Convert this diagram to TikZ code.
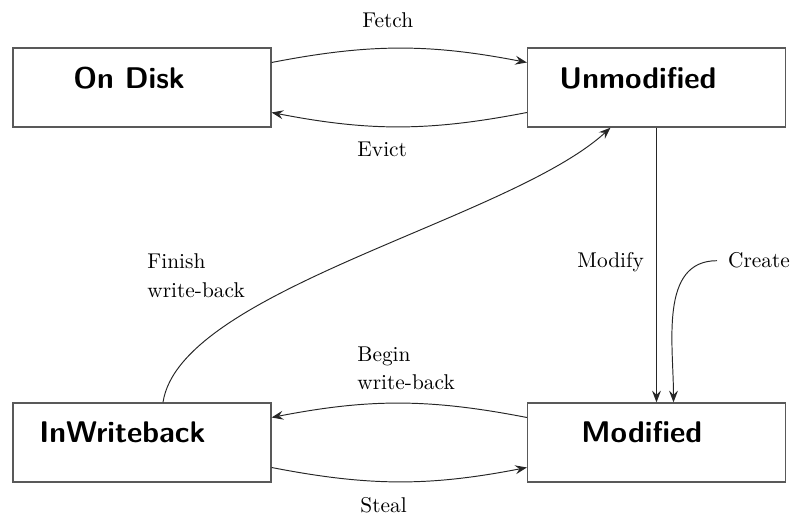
\documentclass[tikz,border=0pt]{standalone}
\usetikzlibrary{arrows.meta,calc}
\begin{document}
\begin{tikzpicture}[x=0.468pt,y=-0.468pt,
  statebox/.style={draw=black!65,line width=0.6pt,minimum width=120.7pt,minimum height=37pt,inner sep=0pt},
  title/.style={font=\fontsize{14}{16}\selectfont\sffamily\bfseries,inner sep=0pt,anchor=base west},
  lbl/.style={font=\fontsize{10}{13.5}\selectfont,inner sep=0pt,anchor=base west},
  mlbl/.style={font=\fontsize{10}{13.5}\selectfont,inner sep=0pt,anchor=north west,align=left},
  conn/.style={draw=black!85,line width=0.45pt,-{Stealth[length=5.5pt,width=4.2pt,inset=2pt]}}]
\useasboundingbox (0,0) rectangle (794,517);
% boxes
\node[statebox] (od) at (142,87.5) {};
\node[statebox] (um) at (656.5,87.5) {};
\node[statebox] (iw) at (142,442.5) {};
\node[statebox] (md) at (656.5,442.5) {};
% titles
\node[title] (odl) at (73,89) {On Disk};
\node[title] (uml) at (559,89) {Unmodified};
\node[title] (iwl) at (39,443) {InWriteback};
\node[title] (mdl) at (581,443) {Modified};
% labels
\node[lbl] (fetch) at (362,28) {Fetch};
\node[lbl] (evict) at (357,157) {Evict};
\node[lbl] (steal) at (360,513) {Steal};
\node[lbl] (modify) at (577,268) {Modify};
\node[lbl,inner xsep=5pt] (create) at (717,268) {Create};
\node[mlbl] (finish) at (147,253) {Finish\\write-back};
\node[mlbl] (begin) at (357,346) {Begin\\write-back};
% connectors
\draw[conn] ($(od.east)+(0,-25)$) to[bend left=11] ($(um.west)+(0,-25)$);
\draw[conn] ($(um.west)+(0,25)$) to[bend left=11] ($(od.east)+(0,25)$);
\draw[conn] ($(md.west)+(0,-25)$) to[bend right=11] ($(iw.east)+(0,-25)$);
\draw[conn] ($(iw.east)+(0,25)$) to[bend right=11] ($(md.west)+(0,25)$);
\draw[conn] (um.south) -- (md.north);
\draw[conn] (create.west) to[out=180,in=90] ($(md.north)+(17,0)$);
\draw[conn] ($(iw.north)+(21,0)$) .. controls (180,290) and (510,220) .. ($(um.south)+(-46,0)$);
\end{tikzpicture}
\end{document}
